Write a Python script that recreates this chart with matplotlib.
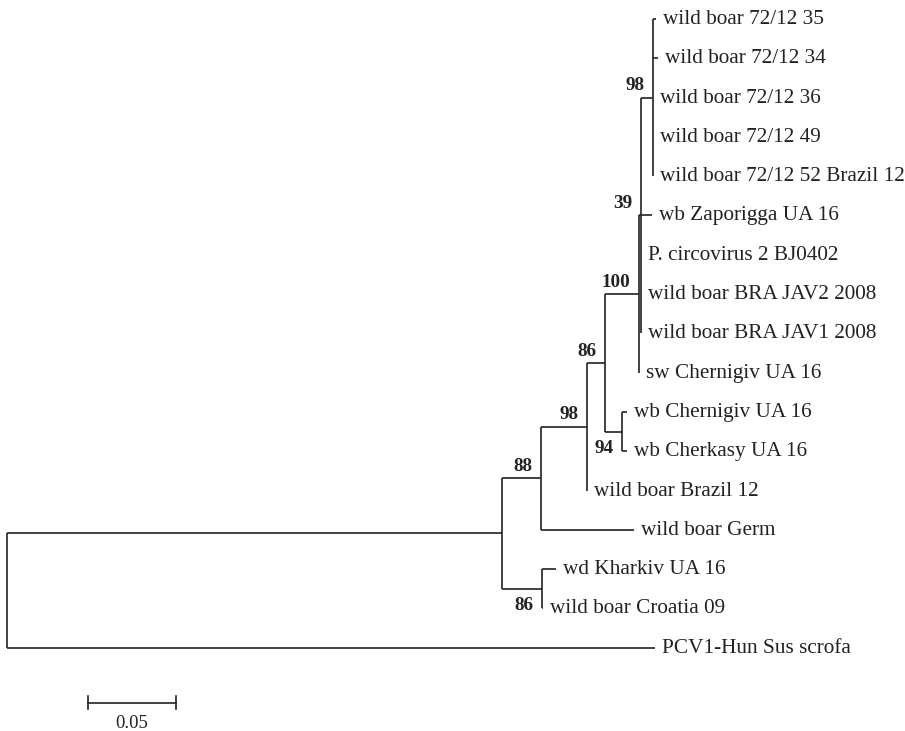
import matplotlib.pyplot as plt

# tips, top to bottom
tips = ["wild boar 72/12 35", "wild boar 72/12 34", "wild boar 72/12 36",
        "wild boar 72/12 49", "wild boar 72/12 52 Brazil 12", "wb Zaporigga UA 16",
        "P. circovirus 2 BJ0402", "wild boar BRA JAV2 2008", "wild boar BRA JAV1 2008",
        "sw Chernigiv UA 16", "wb Chernigiv UA 16", "wb Cherkasy UA 16",
        "wild boar Brazil 12", "wild boar Germ", "wd Kharkiv UA 16",
        "wild boar Croatia 09", "PCV1-Hun Sus scrofa"]

# tree edges: parent -> child with branch length
parents = ["root", "root", "A", "A", "K", "K", "B", "B", "C", "C", "D", "D", "H", "H",
           "E", "E", "F", "F", "F", "F", "F", "G", "G", "G", "G", "G"]
children = ["A", tips[16], "B", "K", tips[14], tips[15], "C", tips[13], tips[12], "D",
            "E", "H", tips[10], tips[11], "F", tips[9], "G", tips[5], tips[6], tips[7],
            tips[8], tips[0], tips[1], tips[2], tips[3], tips[4]]
lengths = [0.2813, 0.3682, 0.0222, 0.0227, 0.0080, 0.0006, 0.0261, 0.0528, 0.0, 0.0102,
           0.0193, 0.0097, 0.0028, 0.0028, 0.0011, 0.0, 0.0068, 0.0063, 0.0, 0.0,
           0.0, 0.0017, 0.0028, 0.0, 0.0, 0.0]

# bootstrap values
support_nodes = ["B", "C", "D", "E", "F", "G", "H", "K"]
support_values = [88, 98, 86, 100, 39, 98, 94, 86]
support_below = ["H", "K"]

scale_len = 0.05

kids = {}
for p, c, l in zip(parents, children, lengths):
    kids.setdefault(p, []).append((c, l))

xpos, ypos = {}, {}


def place(node, x):
    xpos[node] = x
    if node not in kids:
        ypos[node] = tips.index(node)
        return
    for c, l in kids[node]:
        place(c, x + l)
    ys = [ypos[c] for c, _ in kids[node]]
    ypos[node] = (min(ys) + max(ys)) / 2


place("root", 0.0)

fig = plt.figure(figsize=(9.05, 7.31), dpi=100)
ax = fig.add_axes([0, 0, 1, 1])
ax.set_xlim(-7 / 1760, 898 / 1760)
ax.set_ylim(18.12, -0.483)
ax.axis("off")

lc = "#222222"
lw = 1.2
for node, ch in kids.items():
    ys = [ypos[c] for c, _ in ch]
    ax.plot([xpos[node], xpos[node]], [min(ys), max(ys)], color=lc, lw=lw,
            solid_capstyle="butt")
    for c, _ in ch:
        ax.plot([xpos[node], xpos[c]], [ypos[c], ypos[c]], color=lc, lw=lw,
                solid_capstyle="butt")

serif = "Liberation Serif"
for t in tips:
    ax.annotate(t, (xpos[t], ypos[t]), xytext=(5.2, -3.6), textcoords="offset points",
                ha="left", va="baseline", fontsize=15.3, family=serif, color=lc)

for n, v in zip(support_nodes, support_values):
    dy = -15.2 if n in support_below else 5.2
    ax.annotate(str(v), (xpos[n], ypos[n]), xytext=(-6.0, dy), textcoords="offset points",
                ha="right", va="baseline", fontsize=13.8, family=serif,
                fontweight="bold", color=lc)

# scale bar
sx0 = 0.046
sy = 17.4
ax.plot([sx0, sx0 + scale_len], [sy, sy], color=lc, lw=lw)
for sx in (sx0, sx0 + scale_len):
    ax.plot([sx, sx], [sy - 0.17, sy + 0.17], color=lc, lw=lw)
ax.annotate(f"{scale_len:.2f}", (sx0 + scale_len / 2, sy), xytext=(0, -18),
            textcoords="offset points", ha="center", va="baseline",
            fontsize=13.4, family=serif, color=lc)

fig.savefig("out.png", dpi=100)
